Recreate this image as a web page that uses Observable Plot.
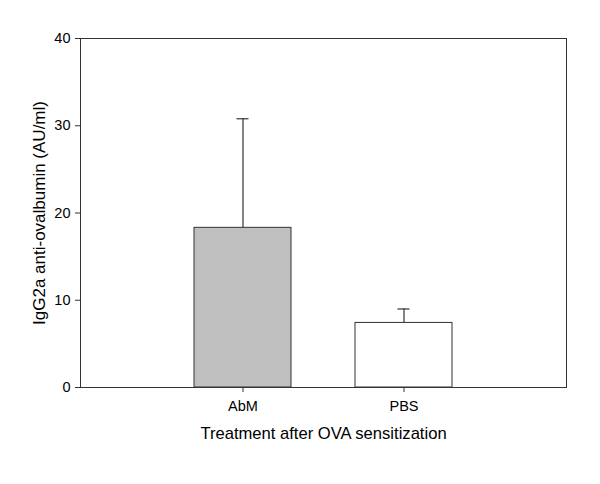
<!DOCTYPE html>
<html>
<head>
<meta charset="utf-8">
<script src="https://cdn.jsdelivr.net/npm/d3@7"></script>
<script src="https://cdn.jsdelivr.net/npm/@observablehq/plot@0.6"></script>
<style>
  html, body { margin: 0; padding: 0; background: #fff; }
</style>
</head>
<body>
<div id="chart"></div>
<script>
const categories = ["AbM", "PBS"];
const means = [18.3, 7.4];
const upper = [30.8, 9.0];
const barFills = ["#c0c0c0", "#ffffff"];
const yTicks = [0, 10, 20, 30, 40];
const xTitle = "Treatment after OVA sensitization";
const yTitle = "IgG2a anti-ovalbumin (AU/ml)";

const data = categories.map((c, i) => ({cat: c, mean: means[i], upper: upper[i], fill: barFills[i]}));

const chart = Plot.plot({
  width: 600,
  height: 484,
  marginLeft: 80,
  marginRight: 34,
  marginTop: 38,
  marginBottom: 97,
  style: {fontFamily: "'Liberation Sans', Arial, sans-serif", fontSize: "14px", color: "#000", background: "#fff"},
  x: {domain: categories, paddingInner: 0.4, paddingOuter: 0.703, label: null},
  y: {domain: [0, 40], label: null},
  marks: [
    Plot.ruleX(data, {x: "cat", y1: "mean", y2: "upper", stroke: "#333", strokeWidth: 1.2}),
    Plot.tickY(data, {x: "cat", y: "upper", stroke: "#333", strokeWidth: 1.2, insetLeft: 42.5, insetRight: 42.5}),
    Plot.barY(data, {x: "cat", y: "mean", fill: "fill", stroke: "#333", strokeWidth: 1}),
    Plot.frame({stroke: "#333", strokeWidth: 1}),
    Plot.axisY({ticks: yTicks, tickSize: 5, tickPadding: 5, label: null, fontSize: 14.5, stroke: "#333"}),
    Plot.axisX({tickSize: 5, tickPadding: 8, label: null, fontSize: 14.5, stroke: "#333"}),
    Plot.text([xTitle], {frameAnchor: "bottom", dy: 51, text: d => d, fontSize: 16.6, fill: "#000"}),
    Plot.text([yTitle], {frameAnchor: "left", textAnchor: "middle", dx: -41, rotate: -90, text: d => d, fontSize: 17, fill: "#000"})
  ]
});
document.getElementById("chart").appendChild(chart);
</script>
</body>
</html>
